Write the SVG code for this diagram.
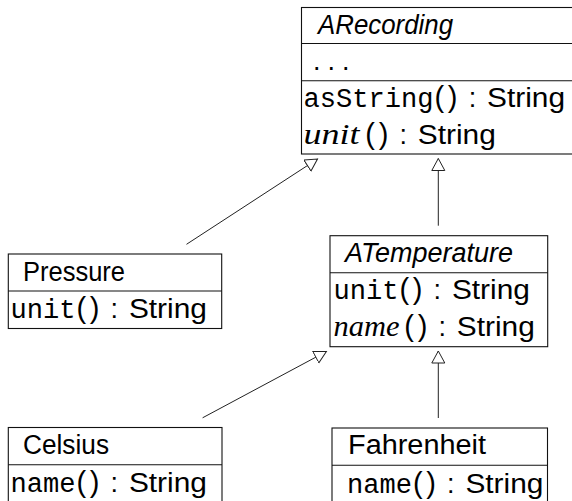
<svg xmlns="http://www.w3.org/2000/svg" width="572" height="501" viewBox="0 0 572 501">
<style>
.box{fill:#fff;stroke:#111;stroke-width:1.1}
.div{stroke:#111;stroke-width:1.1}
.conn{fill:none;stroke:#222;stroke-width:1}
.t{font-family:"Liberation Sans",Arial,sans-serif;font-size:27px;fill:#000}
.it{font-style:italic}
.tt{font-family:"Liberation Mono","Courier New",monospace;font-size:27px}
.mi{font-family:"Liberation Serif","Times New Roman",serif;font-style:italic;font-size:30px}
.p{font-size:29px}
</style>
<defs>
<marker id="gen" markerUnits="userSpaceOnUse" markerWidth="14" markerHeight="15" refX="12.5" refY="7" orient="auto">
<path d="M0.5,0.5 L12.5,7 L0.5,13.5 Z" fill="#fff" stroke="#222" stroke-width="1"/>
</marker>
</defs>

<g id="connectors">
<path class="conn" d="M186.5,244.3 L317.5,159" marker-end="url(#gen)"/>
<path class="conn" d="M438.3,225.7 L438.3,158.5" marker-end="url(#gen)"/>
<path class="conn" d="M202.6,417.8 L326.4,351.5" marker-end="url(#gen)"/>
<path class="conn" d="M438.3,418 L438.3,351" marker-end="url(#gen)"/>
</g>

<g id="ARecording">
<rect class="box" x="301.5" y="7.5" width="276" height="146.5"/>
<line class="div" x1="301.5" y1="43.5" x2="578" y2="43.5"/>
<line class="div" x1="301.5" y1="80.7" x2="578" y2="80.7"/>
<text class="t it" x="318" y="34" textLength="135" lengthAdjust="spacingAndGlyphs">ARecording</text>
<text class="t" x="313" y="70" letter-spacing="7">...</text>
<text class="t" y="107"><tspan class="tt" x="303.5" textLength="130" lengthAdjust="spacingAndGlyphs">asString</tspan><tspan class="p" x="434.5" textLength="23" lengthAdjust="spacing">()</tspan><tspan x="457.8" textLength="29.2" lengthAdjust="spacing"> : </tspan><tspan x="487" textLength="78" lengthAdjust="spacingAndGlyphs">String</tspan></text>
<text class="t" y="144"><tspan class="mi" x="303.5" textLength="56" lengthAdjust="spacingAndGlyphs">unit</tspan><tspan class="p" x="365.3" textLength="23" lengthAdjust="spacing">()</tspan><tspan x="388.6" textLength="29.2" lengthAdjust="spacing"> : </tspan><tspan x="417.8" textLength="78" lengthAdjust="spacingAndGlyphs">String</tspan></text>
</g>

<g id="Pressure">
<rect class="box" x="8.3" y="254" width="213.4" height="74.5"/>
<line class="div" x1="8.3" y1="291" x2="221.7" y2="291"/>
<text class="t" x="23" y="280.5" textLength="102" lengthAdjust="spacingAndGlyphs">Pressure</text>
<text class="t" y="317.5"><tspan class="tt" x="10.5" textLength="65" lengthAdjust="spacingAndGlyphs">unit</tspan><tspan class="p" x="76.4" textLength="23" lengthAdjust="spacing">()</tspan><tspan x="99.7" textLength="29.2" lengthAdjust="spacing"> : </tspan><tspan x="128.9" textLength="78" lengthAdjust="spacingAndGlyphs">String</tspan></text>
</g>

<g id="ATemperature">
<rect class="box" x="330" y="235.7" width="217.7" height="111"/>
<line class="div" x1="330" y1="272.7" x2="547.7" y2="272.7"/>
<text class="t it" x="345" y="262" textLength="168" lengthAdjust="spacingAndGlyphs">ATemperature</text>
<text class="t" y="299"><tspan class="tt" x="333.5" textLength="65" lengthAdjust="spacingAndGlyphs">unit</tspan><tspan class="p" x="399.4" textLength="23" lengthAdjust="spacing">()</tspan><tspan x="422.7" textLength="29.2" lengthAdjust="spacing"> : </tspan><tspan x="451.9" textLength="78" lengthAdjust="spacingAndGlyphs">String</tspan></text>
<text class="t" y="336"><tspan class="mi" x="333.5" textLength="66" lengthAdjust="spacingAndGlyphs">name</tspan><tspan class="p" x="404.3" textLength="23" lengthAdjust="spacing">()</tspan><tspan x="427.6" textLength="29.2" lengthAdjust="spacing"> : </tspan><tspan x="456.8" textLength="78" lengthAdjust="spacingAndGlyphs">String</tspan></text>
</g>

<g id="Celsius">
<rect class="box" x="8.3" y="427.5" width="213.7" height="80"/>
<line class="div" x1="8.3" y1="464.8" x2="222" y2="464.8"/>
<text class="t" x="23" y="453.5" textLength="86" lengthAdjust="spacingAndGlyphs">Celsius</text>
<text class="t" y="492"><tspan class="tt" x="10.5" textLength="65" lengthAdjust="spacingAndGlyphs">name</tspan><tspan class="p" x="76.4" textLength="23" lengthAdjust="spacing">()</tspan><tspan x="99.7" textLength="29.2" lengthAdjust="spacing"> : </tspan><tspan x="128.9" textLength="78" lengthAdjust="spacingAndGlyphs">String</tspan></text>
</g>

<g id="Fahrenheit">
<rect class="box" x="332" y="428" width="215.5" height="80"/>
<line class="div" x1="332" y1="465.3" x2="547.5" y2="465.3"/>
<text class="t" x="348" y="454" textLength="138" lengthAdjust="spacingAndGlyphs">Fahrenheit</text>
<text class="t" y="492.5"><tspan class="tt" x="347" textLength="65" lengthAdjust="spacingAndGlyphs">name</tspan><tspan class="p" x="412.9" textLength="23" lengthAdjust="spacing">()</tspan><tspan x="436.2" textLength="29.2" lengthAdjust="spacing"> : </tspan><tspan x="465.4" textLength="78" lengthAdjust="spacingAndGlyphs">String</tspan></text>
</g>
</svg>
